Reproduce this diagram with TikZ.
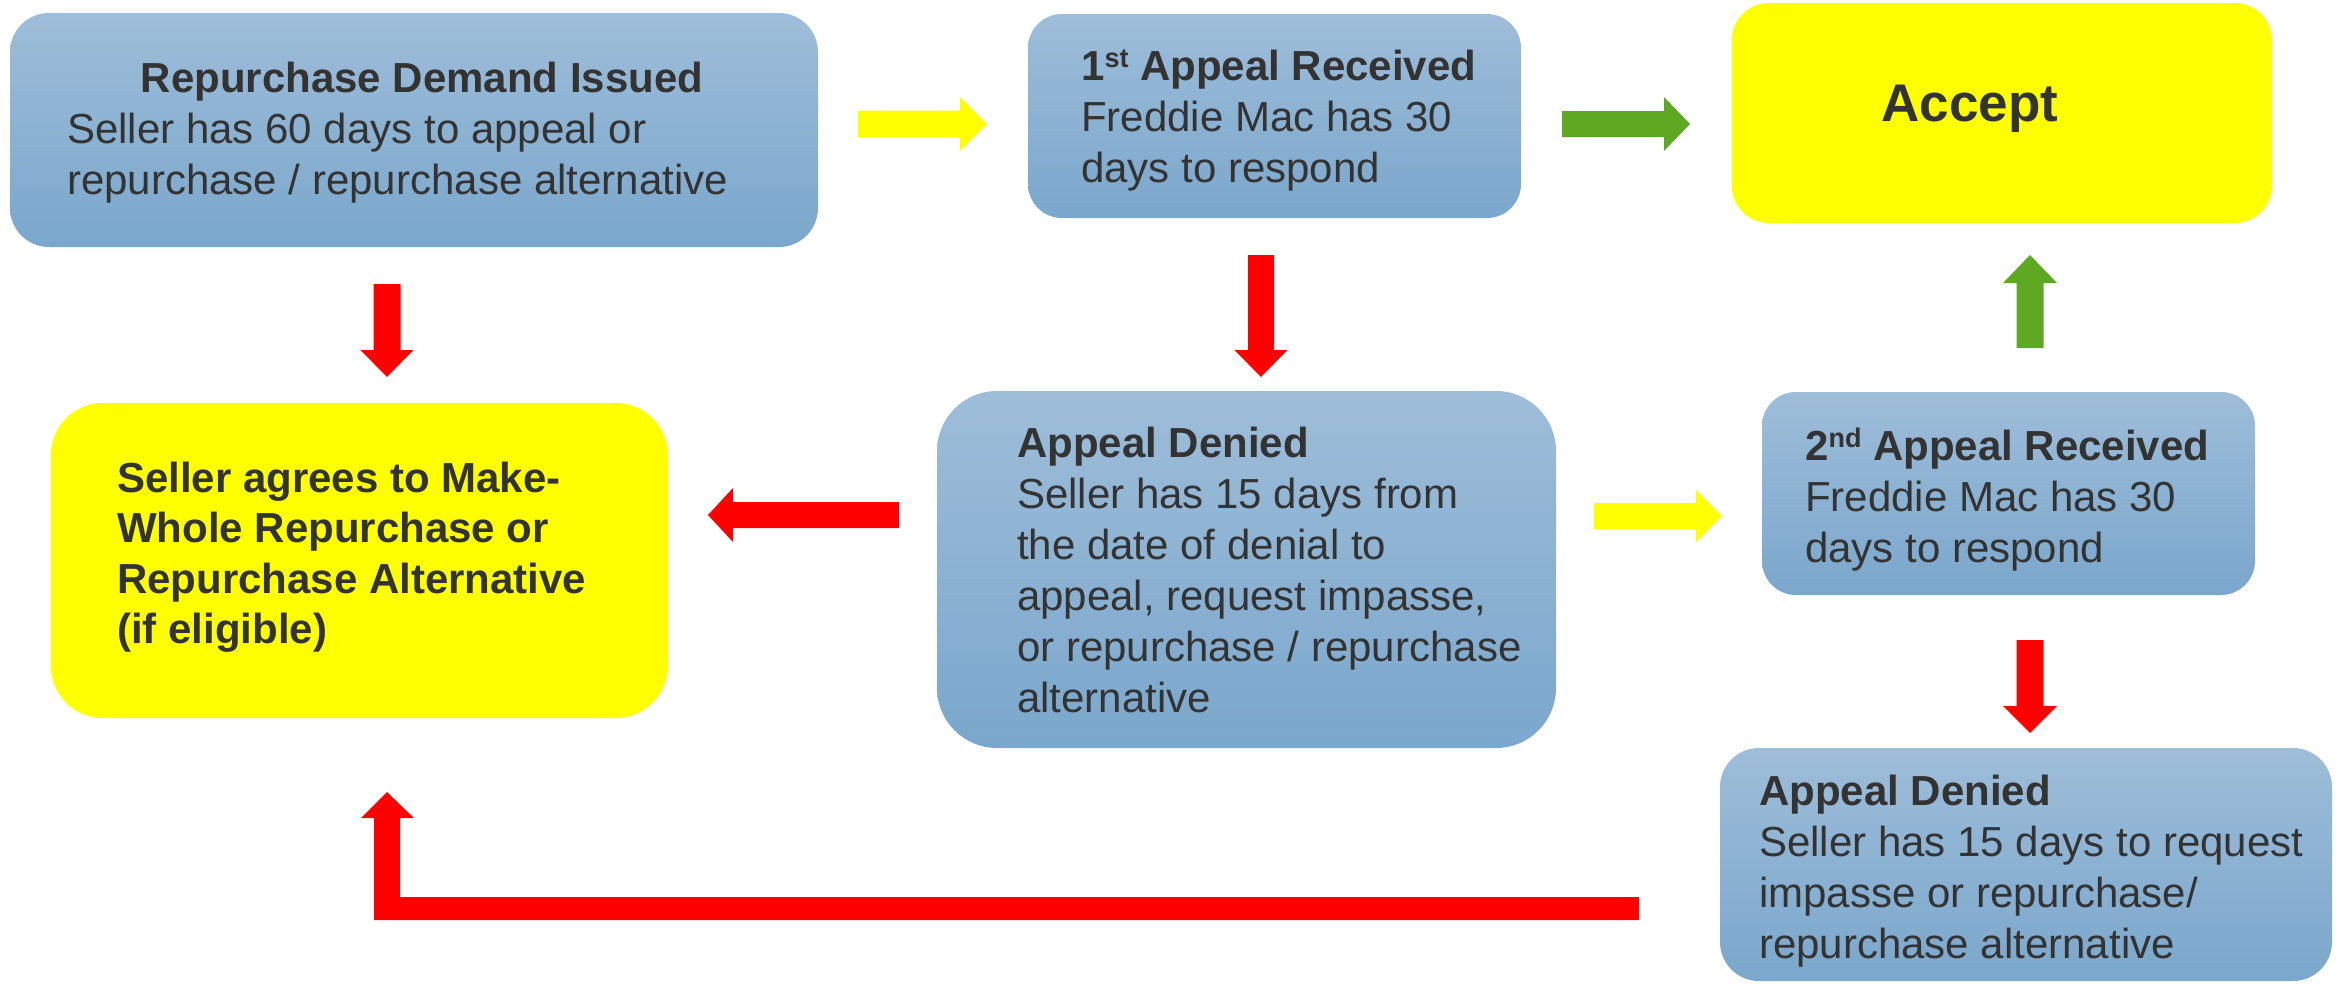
\documentclass[tikz,border=0pt]{standalone}
\usepackage{fontspec}
\setmainfont{Liberation Sans}
\usetikzlibrary{calc}

\definecolor{boxtop}{RGB}{158,189,217}
\definecolor{boxbot}{RGB}{122,167,204}
\definecolor{hilite}{RGB}{255,255,0}
\definecolor{redc}{RGB}{255,0,0}
\definecolor{greenc}{RGB}{95,168,34}
\definecolor{textc}{RGB}{51,51,51}

% first-line strut so that a text node's top sits 32 units above its first baseline
\newcommand\fstrut{\rule{0pt}{32pt}}
\newcommand\supr[1]{\raisebox{13pt}{\fontsize{27}{27}\selectfont #1}}

% block arrow: colour, tail, tip, half shaft width, half head width, head length
\newcommand\blockarrow[6]{%
  \coordinate (headbase) at ($(#3)!#6!(#2)$);
  \fill[#1] ($(#2)!#4!90:(#3)$) -- ($(headbase)!#4!90:(#3)$)
     -- ($(headbase)!#5!90:(#3)$) -- (#3)
     -- ($(headbase)!#5!-90:(#3)$) -- ($(headbase)!#4!-90:(#3)$)
     -- ($(#2)!#4!-90:(#3)$) -- cycle;}

\begin{document}
\begin{tikzpicture}[x=1pt,y=-1pt,
  bluebox/.style={shape=rectangle, inner sep=0pt, top color=boxtop, bottom color=boxbot, draw=none},
  yellowbox/.style={shape=rectangle, inner sep=0pt, fill=hilite, draw=none},
  txt/.style={inner sep=0pt, anchor=north west, align=left, text=textc,
              font=\fontsize{42}{51}\selectfont},
  title/.style={inner sep=0pt, anchor=base, text=textc,
              font=\fontsize{42}{51}\selectfont\bfseries}]

\useasboundingbox (0,0) rectangle (2343,983);

% boxes
\node[bluebox, minimum width=808, minimum height=234, rounded corners=39] (b1) at (414,130) {};
\node[bluebox, minimum width=493, minimum height=204, rounded corners=34] (b2) at (1274.5,116) {};
\node[yellowbox, minimum width=540, minimum height=220, rounded corners=37] (b3) at (2002,113) {};
\node[yellowbox, minimum width=617, minimum height=315, rounded corners=52] (b4) at (359.5,560.5) {};
\node[bluebox, minimum width=619, minimum height=357, rounded corners=60] (b5) at (1246.5,569.5) {};
\node[bluebox, minimum width=493, minimum height=203, rounded corners=34] (b6) at (2008.5,493.5) {};
\node[bluebox, minimum width=612, minimum height=233, rounded corners=39] (b7) at (2026,864.5) {};

% texts
\node[title] (t1h) at (422,92) {Repurchase Demand Issued};
\node[txt] (t1) at (67,111) {\fstrut Seller has 60 days to appeal or\\repurchase / repurchase alternative};
\node[txt] (t2) at (1081,48) {\fstrut\textbf{1\supr{st} Appeal Received}\\Freddie Mac has 30\\days to respond};
\node[inner sep=0pt, anchor=base, text=textc, font=\fontsize{53}{60}\selectfont\bfseries] (t3) at (1970,121) {Accept};
\node[txt, font=\fontsize{42}{50.5}\selectfont\bfseries] (t4) at (117,460) {\fstrut Seller agrees to Make-\\Whole Repurchase or\\Repurchase Alternative\\(if eligible)};
\node[txt] (t5) at (1017,425) {\fstrut\textbf{Appeal Denied}\\Seller has 15 days from\\the date of denial to\\appeal, request impasse,\\or repurchase / repurchase\\alternative};
\node[txt] (t6) at (1805,428) {\fstrut\textbf{2\supr{nd} Appeal Received}\\Freddie Mac has 30\\days to respond};
\node[txt] (t7) at (1759,773) {\fstrut\textbf{Appeal Denied}\\Seller has 15 days to request\\impasse or repurchase/\\repurchase alternative};

% arrow end points
\coordinate (a1s) at (858,124);   \coordinate (a1e) at (987,124);
\coordinate (a2s) at (1562,124);  \coordinate (a2e) at (1690,124);
\coordinate (a3s) at (387,284);   \coordinate (a3e) at (387,377);
\coordinate (a4s) at (1261,255);  \coordinate (a4e) at (1261,377);
\coordinate (a5s) at (2030,348);  \coordinate (a5e) at (2030,255);
\coordinate (a6s) at (899,515);   \coordinate (a6e) at (708,515);
\coordinate (a7s) at (1594,516);  \coordinate (a7e) at (1722,516);
\coordinate (a8s) at (2030,640);  \coordinate (a8e) at (2030,733);
\coordinate (a9s) at (1639,908.5); \coordinate (a9e) at (387,792);

% arrows
\blockarrow{hilite}{a1s}{a1e}{13.5pt}{27pt}{27pt}
\blockarrow{greenc}{a2s}{a2e}{13pt}{27pt}{26pt}
\blockarrow{redc}{a3s}{a3e}{13.5pt}{26.5pt}{27pt}
\blockarrow{redc}{a4s}{a4e}{13pt}{26.5pt}{27pt}
\blockarrow{greenc}{a5s}{a5e}{13.5pt}{27pt}{28pt}
\blockarrow{redc}{a6s}{a6e}{13pt}{27pt}{25pt}
\blockarrow{hilite}{a7s}{a7e}{13pt}{26.5pt}{26pt}
\blockarrow{redc}{a8s}{a8e}{13.5pt}{27pt}{27pt}

% bent return arrow along the bottom
\fill[redc] ([shift={(0,-11.5)}]a9s) -| ([shift={(13,26)}]a9e)
  -- ([shift={(27,26)}]a9e) -- (a9e) -- ([shift={(-26,26)}]a9e)
  -- ([shift={(-13,26)}]a9e) |- ([shift={(0,11.5)}]a9s) -- cycle;

\end{tikzpicture}
\end{document}
